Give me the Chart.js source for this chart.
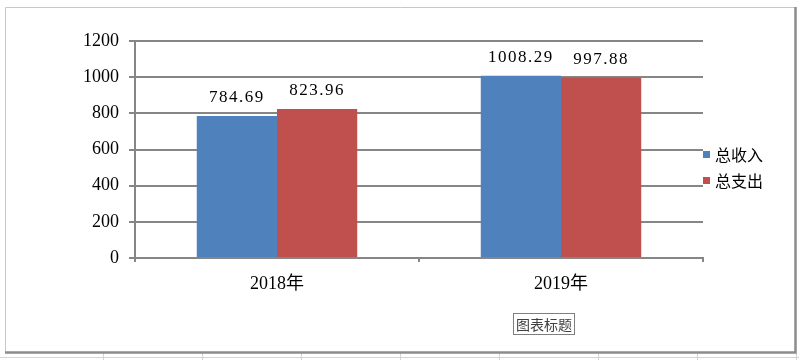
<!DOCTYPE html>
<html>
<head>
<meta charset="utf-8">
<script src="https://cdn.jsdelivr.net/npm/chart.js@4/dist/chart.umd.min.js"></script>
<style>
html,body{margin:0;padding:0;background:#fff;}
#wrap{width:799px;height:360px;position:relative;}
</style>
</head>
<body>
<div id="wrap"><canvas id="c" width="799" height="360"></canvas></div>
<script>
const categories = ["2018年", "2019年"];
const seriesNames = ["总收入", "总支出"];
const income = [784.69, 1008.29];
const expense = [823.96, 997.88];
const yTicks = [0, 200, 400, 600, 800, 1000, 1200];
const chartTitle = "图表标题";

const BLUE = "#4F81BD", RED = "#C0504D", GRID = "#868686";
const serif = "'Liberation Serif', 'Noto Sans CJK SC', serif";
const cjk = "'Noto Sans CJK SC', sans-serif";

const decor = {
  id: 'decor',
  beforeDraw(chart) {
    const ctx = chart.ctx;
    ctx.save();
    ctx.fillStyle = '#fff';
    ctx.fillRect(0, 0, 799, 360);
    ctx.strokeStyle = '#d4d4d4';
    ctx.lineWidth = 1;
    ctx.beginPath();
    ctx.moveTo(0, 357.5); ctx.lineTo(799, 357.5);
    for (let x = 103.5; x < 799; x += 99) { ctx.moveTo(x, 353); ctx.lineTo(x, 360); }
    ctx.stroke();
    ctx.strokeStyle = '#c8c8c8';
    ctx.beginPath();
    ctx.moveTo(5.5, 352); ctx.lineTo(5.5, 7.5); ctx.lineTo(795, 7.5);
    ctx.stroke();
    ctx.strokeStyle = '#8c8c8c';
    ctx.lineWidth = 2.5;
    ctx.beginPath();
    ctx.moveTo(795.5, 7); ctx.lineTo(795.5, 352.5); ctx.lineTo(5, 352.5);
    ctx.stroke();
    ctx.restore();
  },
  afterDraw(chart) {
    const ctx = chart.ctx;
    ctx.save();
    ctx.font = "17px 'Liberation Serif', serif";
    try { ctx.letterSpacing = '1.5px'; } catch (e) {}
    ctx.fillStyle = '#000';
    ctx.textAlign = 'center';
    ctx.textBaseline = 'alphabetic';
    chart.data.datasets.forEach((ds, di) => {
      chart.getDatasetMeta(di).data.forEach((bar, i) => {
        ctx.fillText(ds.data[i].toFixed(2), bar.x, bar.y - 14);
      });
    });
    try { ctx.letterSpacing = '0px'; } catch (e) {}
    const colors = [BLUE, RED];
    const ly = [154, 180];
    ctx.font = "16px " + cjk;
    ctx.textAlign = 'left';
    ctx.textBaseline = 'middle';
    seriesNames.forEach((n, i) => {
      ctx.fillStyle = colors[i];
      ctx.fillRect(703, ly[i] - 3, 7, 7);
      ctx.fillStyle = '#000';
      ctx.fillText(n, 715, ly[i] + 1);
    });
    ctx.strokeStyle = '#7f7f7f';
    ctx.lineWidth = 1;
    ctx.strokeRect(513.5, 313.5, 61, 21);
    ctx.font = "14px " + cjk;
    ctx.fillStyle = '#404040';
    ctx.textAlign = 'center';
    ctx.fillText(chartTitle, 544, 324.5);
    ctx.restore();
  }
};

new Chart(document.getElementById('c'), {
  type: 'bar',
  data: {
    labels: categories,
    datasets: [
      { label: seriesNames[0], data: income, backgroundColor: BLUE },
      { label: seriesNames[1], data: expense, backgroundColor: RED }
    ]
  },
  options: {
    responsive: false,
    animation: false,
    devicePixelRatio: 1,
    layout: { padding: { left: 0, right: 96, top: 41, bottom: 0 } },
    datasets: { bar: { categoryPercentage: 0.565, barPercentage: 1.0 } },
    plugins: { legend: { display: false }, tooltip: { enabled: false }, title: { display: false } },
    scales: {
      x: {
        offset: true,
        grid: { display: true, drawOnChartArea: false, drawTicks: true, offset: true, tickLength: 4, color: GRID, lineWidth: 2 },
        border: { display: true, color: GRID, width: 2 },
        ticks: { color: '#000', font: { family: serif, size: 18 }, padding: 11 },
        afterFit(scale) { scale.height = 360 - 258; }
      },
      y: {
        min: 0, max: 1200,
        afterBuildTicks(scale) { scale.ticks = yTicks.map(v => ({ value: v })); },
        grid: { color: GRID, lineWidth: 2, tickLength: 6, drawTicks: true },
        border: { display: true, color: GRID, width: 2 },
        ticks: { color: '#000', font: { family: serif, size: 18 }, padding: 10, callback: (v) => String(v) },
        afterFit(scale) { scale.width = 135; }
      }
    }
  },
  plugins: [decor]
});
</script>
</body>
</html>
